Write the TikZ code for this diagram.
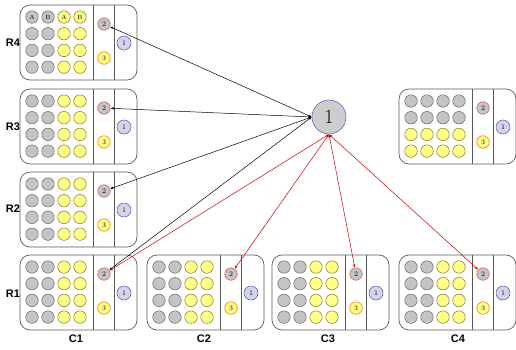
\documentclass[tikz,border=0pt]{standalone}
\usepackage{fontspec}
\newfontfamily\labelfont{Liberation Sans}
\usetikzlibrary{arrows.meta}
\tikzset{>=latex}

\definecolor{wellgray}{HTML}{C4C4C4}
\definecolor{wellyel}{HTML}{FFFF88}
\definecolor{framegray}{HTML}{5A5A5A}
\definecolor{ctlblue}{HTML}{6464C8}
\definecolor{ctlred}{HTML}{D86060}
\definecolor{ctlfill}{HTML}{D4D4E8}

\tikzset{
  frame/.style={draw=framegray,line width=0.7pt},
  well/.style={circle,draw=gray!80!black,fill=wellgray,minimum size=12.5pt,inner sep=0pt,line width=0.5pt},
  ywell/.style={well,draw=olive!85!black,fill=wellyel},
  ctltwo/.style={circle,draw=ctlred,fill=wellgray,minimum size=12.5pt,inner sep=0pt,line width=0.6pt,font=\fontsize{7}{7}\selectfont},
  ctlthree/.style={ctltwo,draw=orange!90!red,fill=wellyel},
  ctlone/.style={ctltwo,draw=ctlblue,fill=ctlfill,minimum size=14pt},
  hub/.style={circle,draw=ctlblue,fill=wellgray!85,minimum size=34pt,inner sep=0pt,line width=0.6pt,font=\fontsize{20}{20}\selectfont},
  lab/.style={font=\labelfont\bfseries\fontsize{11}{11}\selectfont},
  blk/.style={{Latex[length=3pt,width=2.5pt]}-{Latex[length=3pt,width=2.5pt]},line width=0.5pt},
  rd/.style={blk,draw=red!80!black},
  pics/plate/.style={code={
    \plateframe
    \foreach \r in {0,...,3}
      \foreach \c/\s in {0/well,1/well,2/ywell,3/ywell}
        \node[\s] (-w\r\c) at (12+16*\c,12+16.7*\r) {};
  }},
  pics/plate rows/.style={code={
    \plateframe
    \foreach \r/\s in {0/well,1/well,2/ywell,3/ywell}
      \foreach \c in {0,...,3}
        \node[\s] (-w\r\c) at (12+16*\c,12+16.7*\r) {};
  }}
}

% frame of one plate, its two strips and the control wells
\newcommand{\plateframe}{%
  \draw[frame,rounded corners=10pt] (0,0) rectangle (117,75);
  \draw[frame] (73,0) -- (73,75) (94,0) -- (94,75);
  \node[ctltwo] (-two) at (84,19) {2};
  \node[ctlthree] (-three) at (84,53) {3};
  \node[ctlone] (-one) at (104,38) {1};
}

\begin{document}
\begin{tikzpicture}[x=1pt,y=-1pt]
\useasboundingbox (0,0) rectangle (516,349);

% left column of plates
\pic (r4) at (20,5) {plate};
\pic (r3) at (20,89) {plate};
\pic (r2) at (20,172) {plate};
\pic (r1) at (20,255) {plate};
% bottom row
\pic (c2) at (147,255) {plate};
\pic (c3) at (272,255) {plate};
\pic (c4) at (399,255) {plate};
% lone plate on the right
\pic (rt) at (399,89) {plate rows};

\foreach \c/\t in {0/A,1/B,2/A,3/B}
  \node[font=\fontsize{6}{6}\selectfont] at (r4-w0\c) {\t};

\node[lab] (lr4) at (13,43) {R4};
\node[lab] (lr3) at (13,127) {R3};
\node[lab] (lr2) at (13,209) {R2};
\node[lab] (lr1) at (13,294) {R1};
\node[lab] (lc1) at (76,339) {C1};
\node[lab] (lc2) at (204,339) {C2};
\node[lab] (lc3) at (328,339) {C3};
\node[lab] (lc4) at (458,339) {C4};

\node[hub] (hub) at (329,117) {1};

\foreach \p in {r4,r3,r2,r1}
  \draw[blk] (hub.west) -- (\p-two);
\foreach \p in {r1,c2,c3,c4}
  \draw[rd] (hub.south) -- (\p-two);
\end{tikzpicture}
\end{document}
